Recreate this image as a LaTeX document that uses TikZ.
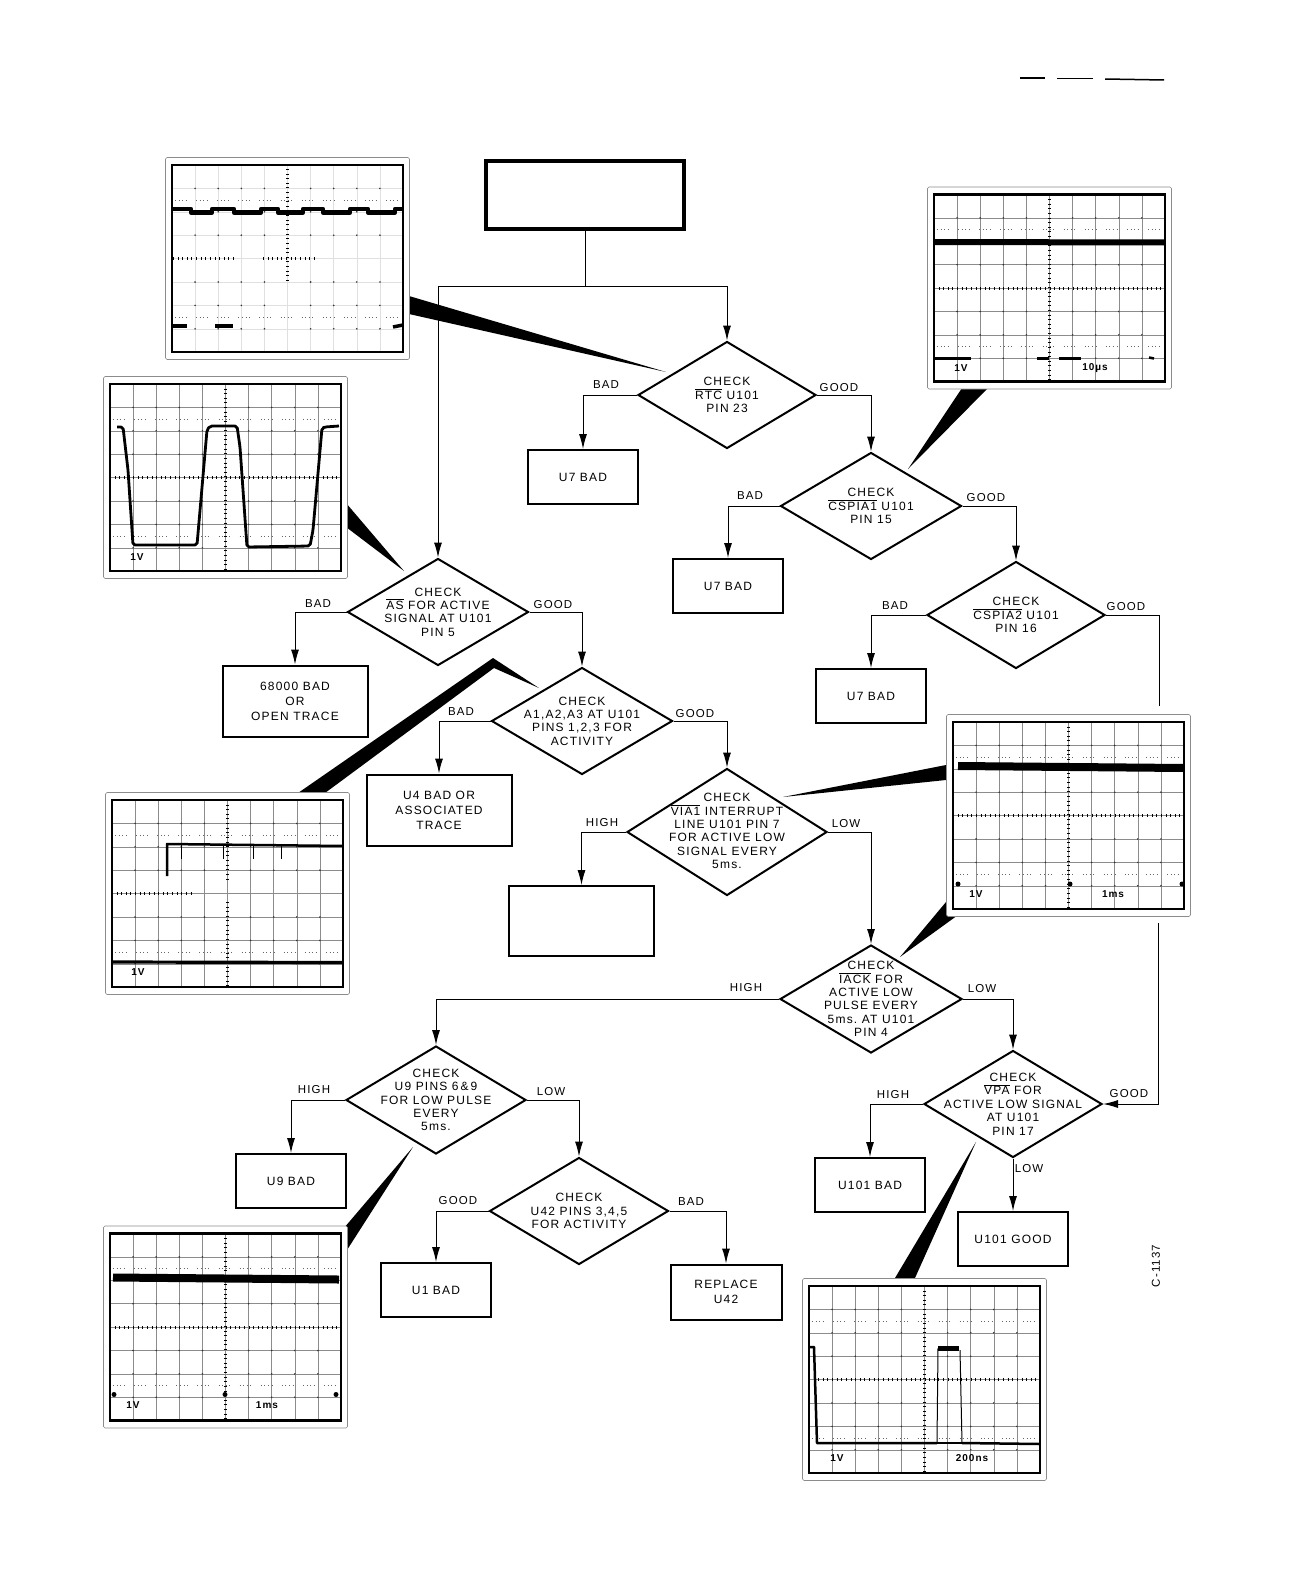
\documentclass[tikz,border=0pt]{standalone}
\usepackage{fontspec}
\setmainfont[LetterSpace=10]{Liberation Sans}
\usetikzlibrary{shapes.geometric,arrows.meta}

\newcommand{\ovl}[1]{$\overline{\mbox{#1}}$}

\tikzset{
	decision/.style={diamond,draw,line width=2pt,inner sep=0pt,minimum width=181,minimum height=107},
	result/.style={rectangle,draw,line width=2pt,inner sep=0pt,minimum width=110,minimum height=54,align=center,font=\fontsize{12}{15}\selectfont},
	legend/.style={align=center,font=\fontsize{12}{13.4}\selectfont},
	edgetext/.style={font=\fontsize{11.5}{13}\selectfont},
	link/.style={line width=1pt},
	linkarrow/.style={line width=1pt,-{Latex[length=15pt,width=8pt]}},
	pointer/.style={fill=black,draw=none},
	screentext/.style={font=\fontsize{10}{12}\selectfont\bfseries},
	trace/.style={line width=#1,line join=round},
	ticks/.style={line width=3pt,dash pattern=on 0.9pt off 3.72pt},
}

% faceplate of one oscilloscope photo, origin at top left of the screen
\newcommand{\scopegrid}[1]{
	\draw[fill=white,draw=black!45,line width=0.6pt,rounded corners=1.5pt] (-6.5,-7.5) rectangle (237.5,194.5);
	\foreach \gx in {1,...,9}
		\draw[#1,line width=0.6pt] (\gx*23.1,0) -- (\gx*23.1,187);
	\foreach \gy in {1,...,7}
		\draw[#1,line width=0.6pt] (0,\gy*23.4) -- (231,\gy*23.4);
	\foreach \gx in {1,2,3,4,6,7,8,9}
		\foreach \gy in {1,2,3,5,6,7}
			\fill[black!80] (\gx*23.1,\gy*23.4) circle (0.9pt);
	\draw[black!60,line width=0.8pt,dash pattern=on 1pt off 2.6pt on 1pt off 2.6pt on 1pt off 2.6pt on 1pt off 9.3pt] (3,35.1) -- (231,35.1);
	\draw[black!60,line width=0.8pt,dash pattern=on 1pt off 2.6pt on 1pt off 2.6pt on 1pt off 2.6pt on 1pt off 9.3pt] (3,152.1) -- (231,152.1);
	\draw[line width=2.8pt] (0,0) rectangle (231,187);
}

\begin{document}
\begin{tikzpicture}[x=1pt,y=-1pt]
	\useasboundingbox (0,0) rectangle (1292,1571);

	% marks at the top of the page
	\draw[line width=1.3pt] (1020,78) -- (1045,78);
	\draw[line width=1.3pt] (1057,78.5) -- (1093,78.5);
	\draw[line width=1.5pt] (1105,79) -- (1164,80);

	\node[draw,line width=3.5pt,minimum width=198,minimum height=68] (start) at (585,195) {};
	\coordinate (split) at (585,286.5);

	% decisions
	\node[decision,minimum width=178] (rtc) at (727,395) {};
	\node[legend] (rtctext) at (rtc) {CHECK\\\ovl{RTC} U101\\PIN 23};
	\node[decision] (cspiaone) at (871,506) {};
	\node[legend] (cspiaonetext) at (cspiaone) {CHECK\\\ovl{CSPIA1} U101\\PIN 15};
	\node[decision,minimum width=178] (cspiatwo) at (1016,615) {};
	\node[legend] (cspiatwotext) at (cspiatwo) {CHECK\\\ovl{CSPIA2} U101\\PIN 16};
	\node[decision] (as) at (438,612) {};
	\node[legend] (astext) at (as) {CHECK\\\ovl{AS} FOR ACTIVE\\SIGNAL AT U101\\PIN 5};
	\node[decision] (addr) at (582,721) {};
	\node[legend] (addrtext) at (addr) {CHECK\\A1,A2,A3 AT U101\\PINS 1,2,3 FOR\\ACTIVITY};
	\node[decision,minimum width=200,minimum height=127] (via) at (727,832) {};
	\node[legend] (viatext) at ([yshift=1]via.center) {CHECK\\\ovl{VIA1} INTERRUPT\\LINE U101 PIN 7\\FOR ACTIVE LOW\\SIGNAL EVERY\\5ms.};
	\node[decision,minimum width=182,minimum height=108] (iack) at (871,999) {};
	\node[legend] (iacktext) at (iack) {CHECK\\\ovl{IACK} FOR\\ACTIVE LOW\\PULSE EVERY\\5ms.~AT U101\\PIN 4};
	\node[decision,minimum width=178] (vpa) at (1013,1104) {};
	\node[legend] (vpatext) at (vpa) {CHECK\\\ovl{VPA} FOR\\ACTIVE LOW SIGNAL\\AT U101\\PIN 17};
	\node[decision,minimum width=180,minimum height=108] (uninepins) at (436,1100) {};
	\node[legend] (uninepinstext) at (uninepins) {CHECK\\U9 PINS 6\,\&\,9\\FOR LOW PULSE\\EVERY\\5ms.};
	\node[decision,minimum width=179] (ufourtwo) at (579,1211) {};
	\node[legend] (ufourtwotext) at (ufourtwo) {CHECK\\U42 PINS 3,4,5\\FOR ACTIVITY};

	% results
	\node[result] (useven) at (583,477) {U7 BAD};
	\node[result] (usevenb) at (728,586) {U7 BAD};
	\node[result] (usevenc) at (871,696) {U7 BAD};
	\node[result,minimum width=145,minimum height=71] (cpu) at (295,701) {68000 BAD\\OR\\OPEN TRACE};
	\node[result,minimum width=145,minimum height=71] (ufour) at (439,810) {U4 BAD OR\\ASSOCIATED\\TRACE};
	\node[result,minimum width=145,minimum height=70] (empty) at (581.5,921) {};
	\node[result] (unine) at (291,1181) {U9 BAD};
	\node[result] (uonebad) at (870,1185) {U101 BAD};
	\node[result] (uonegood) at (1013,1239) {U101 GOOD};
	\node[result] (uone) at (436,1290) {U1 BAD};
	\node[result,minimum width=111,minimum height=55] (replace) at (726,1292) {REPLACE\\U42};

	% connectors
	\draw[link] (start.south) -- (split);
	\draw[linkarrow] (split) -| (rtc.north);
	\draw[linkarrow] (split) -| (as.north);
	\draw[linkarrow] (rtc.west) -| (useven.north);
	\draw[linkarrow] (rtc.east) -| (cspiaone.north);
	\draw[linkarrow] (cspiaone.west) -| (usevenb.north);
	\draw[linkarrow] (cspiaone.east) -| (cspiatwo.north);
	\draw[linkarrow] (cspiatwo.west) -| (usevenc.north);
	\coordinate (goodout) at (1159,706);
	\coordinate (goodin) at (1158,923);
	\draw[link] (cspiatwo.east) -| (goodout);
	\draw[linkarrow] (goodin) |- (vpa.east);
	\draw[linkarrow] (as.west) -| (cpu.north);
	\draw[linkarrow] (as.east) -| (addr.north);
	\draw[linkarrow] (addr.west) -| (ufour.north);
	\draw[linkarrow] (addr.east) -| (via.north);
	\draw[linkarrow] (via.west) -| (empty.north);
	\draw[linkarrow] (via.east) -| (iack.north);
	\draw[linkarrow] (iack.west) -| (uninepins.north);
	\draw[linkarrow] (iack.east) -| (vpa.north);
	\draw[linkarrow] (vpa.west) -| (uonebad.north);
	\draw[linkarrow] (vpa.south) -- (uonegood.north);
	\draw[linkarrow] (uninepins.west) -| (unine.north);
	\draw[linkarrow] (uninepins.east) -| (ufourtwo.north);
	\draw[linkarrow] (ufourtwo.west) -| (uone.north);
	\draw[linkarrow] (ufourtwo.east) -| (replace.north);

	% labels of the connectors
	\node[edgetext] (rtcbad) at (606,385) {BAD};
	\node[edgetext] (rtcgood) at (839,388) {GOOD};
	\node[edgetext] (cspiaonebad) at (750,496) {BAD};
	\node[edgetext] (cspiaonegood) at (986,498) {GOOD};
	\node[edgetext] (cspiatwobad) at (895,606) {BAD};
	\node[edgetext] (cspiatwogood) at (1126,607) {GOOD};
	\node[edgetext] (asbad) at (318,604) {BAD};
	\node[edgetext] (asgood) at (553,605) {GOOD};
	\node[edgetext] (addrbad) at (461,712) {BAD};
	\node[edgetext] (addrgood) at (695,714) {GOOD};
	\node[edgetext] (viahigh) at (602,823) {HIGH};
	\node[edgetext] (vialow) at (846,824) {LOW};
	\node[edgetext] (iackhigh) at (746,988) {HIGH};
	\node[edgetext] (iacklow) at (982,989) {LOW};
	\node[edgetext] (uninehigh) at (314,1090) {HIGH};
	\node[edgetext] (uninelow) at (551,1092) {LOW};
	\node[edgetext] (vpahigh) at (893,1095) {HIGH};
	\node[edgetext] (vpagood) at (1129,1094) {GOOD};
	\node[edgetext] (vpalow) at (1029,1169) {LOW};
	\node[edgetext] (ufourtwogood) at (458,1201) {GOOD};
	\node[edgetext] (ufourtwobad) at (691,1202) {BAD};
	\node[edgetext,rotate=90] (drawingno) at (1156,1266) {C-1137};

	% pointers from the photos
	\fill[pointer] (409,296) -- (409,314) -- (666,372) -- cycle;
	\fill[pointer] (962,388) -- (988,388) -- (908,469) -- cycle;
	\fill[pointer] (346,503) -- (346,527) -- (404,571) -- cycle;
	\fill[pointer] (298,793) -- (493,658) -- (539,688) -- (494,668) -- (325,793) -- cycle;
	\fill[pointer] (946,765) -- (946,780) -- (783,797) -- cycle;
	\fill[pointer] (946,902) -- (958,915) -- (900,957) -- cycle;
	\fill[pointer] (344,1228) -- (347,1250) -- (413,1147) -- cycle;
	\fill[pointer] (895,1278) -- (915,1278) -- (976,1142) -- cycle;

	\begin{scope}[shift={(172,165)}]
		\scopegrid{black!12}
		\draw[ticks] (115.5,4) -- (115.5,119);
		\draw[ticks] (1,93.6) -- (62,93.6);
		\draw[ticks] (91,93.6) -- (144,93.6);
		\draw[trace=4.5pt] (0,44) -- (19,44) -- (19,47.5) -- (40,47.5) -- (40,44) -- (62,44) -- (62,47.5) -- (89,47.5) -- (89,44) -- (106,44) -- (106,47.5) -- (131,47.5) -- (131,44) -- (151,44) -- (151,47.5) -- (178,47.5) -- (178,44) -- (196,44) -- (196,47.5) -- (223,47.5) -- (223,44) -- (231,44);
		\draw[trace=3.5pt] (1,161) -- (15,161);
		\draw[trace=3.5pt] (43,161) -- (61,161);
		\draw[trace=3.5pt] (221,162) -- (231,160);
	\end{scope}

	\begin{scope}[shift={(934,194.5)}]
		\scopegrid{black!45}
		\draw[ticks] (115.5,0) -- (115.5,187);
		\draw[ticks] (0,93.6) -- (231,93.6);
		\draw[trace=6pt] (0,47.5) -- (231,48);
		\draw[trace=2.5pt] (0,164) -- (37,164);
		\draw[trace=2.5pt] (103,164) -- (115,164);
		\draw[trace=2.5pt] (125,164) -- (147,164);
		\draw[trace=2.5pt] (215,163) -- (220,164);
		\node[screentext] (onevolta) at (27,174) {1V};
		\node[screentext] (tenus) at (161,174) {10µs};
	\end{scope}

	\begin{scope}[shift={(110,384)}]
		\scopegrid{black!45}
		\draw[ticks] (115.5,0) -- (115.5,187);
		\draw[ticks] (0,93.6) -- (231,93.6);
		\draw[trace=2.8pt,rounded corners=2pt] (7,43) -- (13,43) -- (18,86) -- (23,161) -- (87,161) -- (97,46) -- (100,42) -- (127,42) -- (130,63) -- (137,163) -- (200,162) -- (203,146) -- (212,44) -- (215,43) -- (229,42);
		\node[screentext] (onevoltb) at (27,173) {1V};
	\end{scope}

	\begin{scope}[shift={(112,800)}]
		\scopegrid{black!45}
		\draw[ticks] (115.5,0) -- (115.5,80);
		\draw[ticks] (115.5,102) -- (115.5,187);
		\draw[ticks] (0,93.6) -- (82,93.6);
		\draw[trace=3.2pt] (0,162) -- (231,162.5);
		\draw[trace=2.5pt] (55,76) -- (55,44) -- (231,46);
		\draw[trace=1pt] (69,44) -- (69,59);
		\draw[trace=1pt] (111,44) -- (111,59);
		\draw[trace=1pt] (141,44) -- (141,59);
		\draw[trace=1pt] (169,44) -- (169,59);
		\node[screentext] (onevoltc) at (26,172) {1V};
	\end{scope}

	\begin{scope}[shift={(953,722)}]
		\scopegrid{black!45}
		\draw[ticks] (115.5,0) -- (115.5,187);
		\draw[ticks] (0,93.6) -- (231,93.6);
		\draw[trace=8pt] (5,44) -- (231,46);
		\fill (5,162) circle (2.5pt);
		\fill (117,162) circle (2.5pt);
		\fill (229,162) circle (2.5pt);
		\node[screentext] (onevoltd) at (23,172) {1V};
		\node[screentext] (onemsa) at (160,172) {1ms};
	\end{scope}

	\begin{scope}[shift={(110,1233.5)}]
		\scopegrid{black!45}
		\draw[ticks] (115.5,0) -- (115.5,187);
		\draw[ticks] (0,93.6) -- (231,93.6);
		\draw[trace=8pt] (3,44) -- (229,46);
		\fill (4,161) circle (2.5pt);
		\fill (115,161) circle (2.5pt);
		\fill (226,161) circle (2.5pt);
		\node[screentext] (onevolte) at (23,172) {1V};
		\node[screentext] (onemsb) at (157,172) {1ms};
	\end{scope}

	\begin{scope}[shift={(809,1286)}]
		\scopegrid{black!45}
		\draw[ticks] (115.5,0) -- (115.5,187);
		\draw[ticks] (0,93.6) -- (231,93.6);
		\draw[trace=2.5pt] (0,61) -- (5,61) -- (8,157) -- (128,157);
		\draw[trace=1pt] (128,157) -- (129,62);
		\draw[trace=5pt] (129,62) -- (150,62);
		\draw[trace=1pt] (151,64) -- (153,157);
		\draw[trace=1.5pt] (128,157) -- (153,157);
		\draw[trace=2.5pt] (153,157) -- (231,158);
		\node[screentext] (onevoltf) at (28,172) {1V};
		\node[screentext] (twohundredns) at (163,172) {200ns};
	\end{scope}

\end{tikzpicture}
\end{document}
